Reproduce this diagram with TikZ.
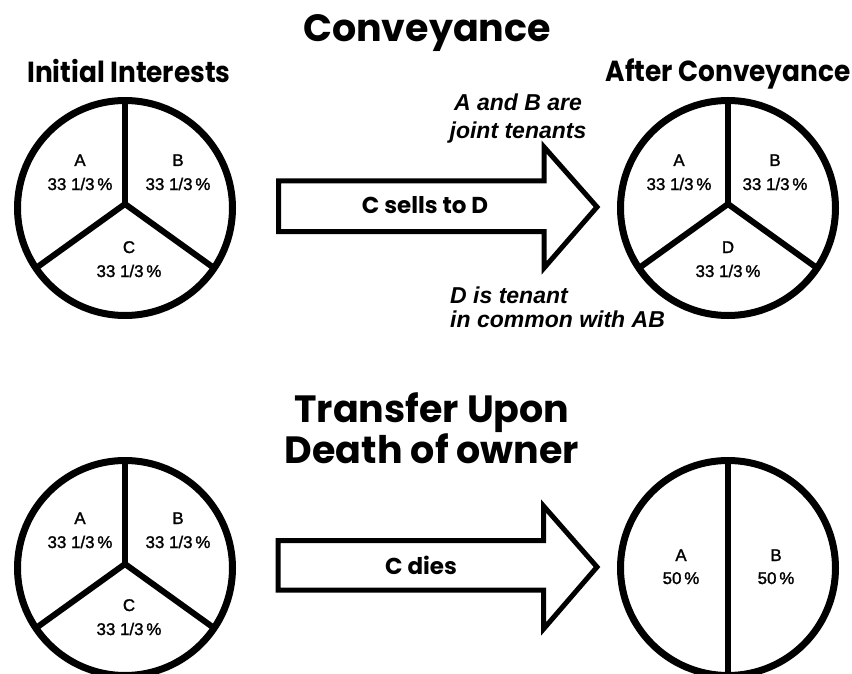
\documentclass[tikz,border=0pt]{standalone}
\usepackage{graphicx}
\usepackage{fontspec}
\setmainfont{Liberation Sans}
\newfontfamily\headfont{Poppins}
\newfontfamily\sharefont{Liberation Sans}[FakeBold=1.5]
\newcommand{\narrow}[1]{\scalebox{0.91}[1]{#1}}
\begin{document}
\begin{tikzpicture}[x=1pt,y=-1pt,
  ring/.style={circle, draw, line width=7pt, minimum size=215pt, inner sep=0pt, outer sep=0pt},
  spoke/.style={line width=6pt, line cap=round},
  share/.style={font=\sharefont\fontsize{16.9}{20}\selectfont, anchor=base, inner sep=0pt},
  heading/.style={font=\headfont\bfseries\fontsize{38}{44}\selectfont, anchor=base, inner sep=0pt},
  subheading/.style={font=\headfont\bfseries\fontsize{29}{35}\selectfont, anchor=base, inner sep=0pt},
  banner/.style={draw, line width=5pt, line join=miter, miter limit=10},
  bannertext/.style={font=\headfont\bfseries\fontsize{23}{28}\selectfont, anchor=base, inner sep=0pt},
  note/.style={font=\bfseries\itshape\fontsize{23}{28}\selectfont, anchor=base, inner sep=0pt}]
\useasboundingbox (0,0) rectangle (852,674);
\clip (0,0) rectangle (852,674);

% ---------- headings ----------
\node[heading] (conv) at (427,42) {Conveyance};
\node[subheading] (init) at (129,83) {\narrow{Initial Interests}};
\node[subheading] (after) at (728,82) {\narrow{After Conveyance}};
\node[heading] (tr1) at (432,422) {Transfer Upon};
\node[heading] (tr2) at (432,463) {Death of owner};

% ---------- initial interests ----------
\node[ring] (tl) at (125,208) {};
\coordinate (tlj) at (125,204);
\draw[spoke] (tl.90) -- (tlj);
\draw[spoke] (tl.-146) -- (tlj);
\draw[spoke] (tl.-34) -- (tlj);
\node[share] (tlA) at (80,166) {A};
\node[share] (tlAp) at (80,190) {33 1/3\,\%};
\node[share] (tlB) at (178,166) {B};
\node[share] (tlBp) at (178,190) {33 1/3\,\%};
\node[share] (tlC) at (129,253) {C};
\node[share] (tlCp) at (129,277) {33 1/3\,\%};

% ---------- conveyance arrow ----------
\draw[banner] (278.5,181) -- (544,181) -- (544,147) -- (597,207)
  -- (544,268) -- (544,231.5) -- (278.5,231.5) -- cycle;
\node[bannertext] (sell) at (425,214) {C sells to D};
\node[note] (jt1) at (518,111) {A and B are};
\node[note] (jt2) at (518,139) {joint tenants};
\node[note, anchor=base west] (tc1) at (450,303) {D is tenant};
\node[note, anchor=base west] (tc2) at (450,327) {in common with AB};

% ---------- after conveyance ----------
\node[ring] (tr) at (728,208) {};
\coordinate (trj) at (728,204);
\draw[spoke] (tr.90) -- (trj);
\draw[spoke] (tr.-146) -- (trj);
\draw[spoke] (tr.-34) -- (trj);
\node[share] (trA) at (679,166) {A};
\node[share] (trAp) at (679,190) {33 1/3\,\%};
\node[share] (trB) at (775,166) {B};
\node[share] (trBp) at (775,190) {33 1/3\,\%};
\node[share] (trD) at (728,253) {D};
\node[share] (trDp) at (728,277) {33 1/3\,\%};

% ---------- before death ----------
\node[ring] (bl) at (125,568) {};
\coordinate (blj) at (125,564);
\draw[spoke] (bl.90) -- (blj);
\draw[spoke] (bl.-146) -- (blj);
\draw[spoke] (bl.-34) -- (blj);
\node[share] (blA) at (80,524) {A};
\node[share] (blAp) at (80,548) {33 1/3\,\%};
\node[share] (blB) at (178,524) {B};
\node[share] (blBp) at (178,548) {33 1/3\,\%};
\node[share] (blC) at (129,611) {C};
\node[share] (blCp) at (129,635) {33 1/3\,\%};

% ---------- death arrow ----------
\draw[banner] (278,540.5) -- (543.5,540.5) -- (543.5,506) -- (597,567)
  -- (543.5,629) -- (543.5,590) -- (278,590) -- cycle;
\node[bannertext] (dies) at (421,574) {C dies};

% ---------- after death ----------
\node[ring] (br) at (728,568) {};
\draw[spoke] (br.90) -- (br.-90);
\node[share] (brA) at (681,561) {A};
\node[share] (brAp) at (681,584) {50\,\%};
\node[share] (brB) at (776,561) {B};
\node[share] (brBp) at (776,584) {50\,\%};
\end{tikzpicture}
\end{document}
